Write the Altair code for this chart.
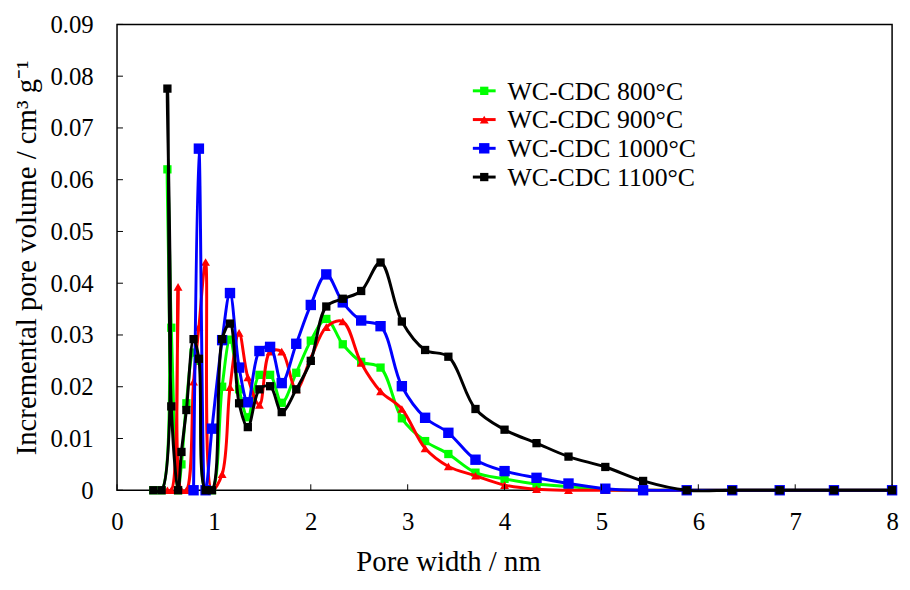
import altair as alt
import pandas as pd
import numpy as np

# Shared pore-width grid (nm)
pore_width = [0.375, 0.46, 0.52, 0.56, 0.63, 0.665, 0.716, 0.79, 0.845, 0.914, 0.98,
              1.085, 1.166, 1.26, 1.35, 1.47, 1.58, 1.70, 1.85, 2.00, 2.16, 2.33, 2.52,
              2.72, 2.94, 3.18, 3.42, 3.70, 4.00, 4.33, 4.66, 5.04, 5.43, 5.88, 6.35,
              6.84, 7.40, 8.00]

N = None
wc800 = [0, 0, 0.0620, 0.0314, 0, 0.0050, 0.0168, 0.0266, 0.0250, 0, 0,
         0.0200, 0.0291, 0.0195, 0.0141, 0.0223, 0.0223, 0.0169, 0.0227, 0.0289, 0.0331, 0.0282, 0.0248,
         0.0237, 0.0139, 0.0095, 0.0070, 0.0034, 0.0022, 0.0012, 0.0007, 0.0001, 0, 0, 0,
         0, 0, 0]
wc900 = [N, N, 0, 0, 0.0393, 0, 0, 0.0210, 0.0315, 0.0441, 0,
         0.0031, 0.0199, 0.0304, 0.0218, 0.0165, 0.0268, 0.0268, 0.0195, 0.0255, 0.0315, 0.0326, 0.0246,
         0.0191, 0.0157, 0.0081, 0.0046, 0.0028, 0.0010, 0.0002, 0, 0, 0, 0, 0,
         0, 0, 0]
wc1000 = [N, N, N, N, N, N, N, 0, 0.0660, 0, 0.0119,
          0.0290, 0.0381, 0.0237, 0.0170, 0.0269, 0.0277, 0.0207, 0.0283, 0.0358, 0.0417, 0.0363, 0.0328,
          0.0317, 0.0201, 0.0140, 0.0111, 0.0059, 0.0037, 0.0024, 0.0013, 0.0003, 0, 0, 0,
          0, 0, 0]
wc1100 = [0, 0, 0.0776, 0.0162, 0, 0.0074, 0.0155, 0.0292, 0.0254, 0, 0,
          0.0292, 0.0322, 0.0168, 0.0122, 0.0195, 0.0201, 0.0151, 0.0195, 0.0250, 0.0355, 0.0370, 0.0385,
          0.0440, 0.0326, 0.0271, 0.0258, 0.0157, 0.0117, 0.0091, 0.0065, 0.0045, 0.0018, 0, 0,
          0, 0, 0]

series_names = ["WC-CDC 800°C", "WC-CDC 900°C", "WC-CDC 1000°C", "WC-CDC 1100°C"]
series_values = [wc800, wc900, wc1000, wc1100]
series_colors = ["#00FF00", "#FF0000", "#0000FF", "#000000"]
series_shapes = ["square", "triangle-up", "square", "square"]
series_sizes = [70, 80, 110, 70]

x_ticks = [0, 1, 2, 3, 4, 5, 6, 7, 8]
y_ticks = [0, 0.01, 0.02, 0.03, 0.04, 0.05, 0.06, 0.07, 0.08, 0.09]

FONT = "Liberation Serif"
W, H = 782, 470

xscale = alt.Scale(domain=[0, 8], nice=False, zero=False)
yscale = alt.Scale(domain=[0, 0.09], nice=False)

xaxis = alt.Axis(values=x_ticks, format="d", title="Pore width / nm", grid=False,
                 domain=False, ticks=False, tickSize=0, labelPadding=20, labelFlush=False,
                 labelFont=FONT, labelFontSize=25, labelColor="black",
                 titleFont=FONT, titleFontSize=29, titleFontWeight="normal", titleColor="black",
                 titleX=334, titleY=81, titleBaseline="alphabetic")
yaxis = alt.Axis(values=y_ticks, title="Incremental pore volume / cm³ g⁻¹", grid=False,
                 labelExpr="datum.value == 0 ? '0' : format(datum.value, '.2f')",
                 domain=False, ticks=False, tickSize=0, labelPadding=24, labelFlush=False,
                 labelFont=FONT, labelFontSize=25, labelColor="black",
                 titleFont=FONT, titleFontSize=29, titleFontWeight="normal", titleColor="black",
                 titleX=-91, titleBaseline="middle")

layers = []
for i, (name, vals, col, shp, sz) in enumerate(zip(series_names, series_values, series_colors,
                                                     series_shapes, series_sizes)):
    df = pd.DataFrame({"x": pore_width, "y": vals}).dropna()
    base = alt.Chart(df)
    enc_x = alt.X("x:Q", scale=xscale, axis=xaxis)
    enc_y = alt.Y("y:Q", scale=yscale, axis=yaxis)
    line = base.mark_line(color=col, strokeWidth=3, interpolate="catmull-rom").encode(x=enc_x, y=enc_y)
    pts = base.mark_point(shape=shp, filled=True, size=sz, color=col, opacity=1).encode(x=enc_x, y=enc_y)
    layers += [line, pts]

# inside ticks
xt = alt.Chart(pd.DataFrame({"t": x_ticks})).mark_rule(color="black", strokeWidth=1).encode(
    x=alt.X("t:Q", scale=xscale, axis=xaxis), y=alt.value(H), y2=alt.value(H - 6))
yt = alt.Chart(pd.DataFrame({"t": y_ticks})).mark_rule(color="black", strokeWidth=1).encode(
    y=alt.Y("t:Q", scale=yscale, axis=yaxis), x=alt.value(0), x2=alt.value(6))
layers += [xt, yt]

# legend
ly0, ldy = 67, 29
for i, (name, col, shp, sz) in enumerate(zip(series_names, series_colors, series_shapes, series_sizes)):
    ldf = pd.DataFrame({"name": [name]})
    yy = ly0 + i * ldy
    lb = alt.Chart(ldf)
    layers.append(lb.mark_rule(color=col, strokeWidth=3).encode(
        x=alt.value(359), x2=alt.value(382), y=alt.value(yy)))
    layers.append(lb.mark_point(shape=shp, filled=True, size=sz, color=col, opacity=1).encode(
        x=alt.value(370.5), y=alt.value(yy)))
    layers.append(lb.mark_text(font=FONT, fontSize=26, align="left", baseline="middle", color="black").encode(
        x=alt.value(394), y=alt.value(yy + 1), text="name:N"))

chart = alt.layer(*layers).properties(
    width=W, height=H,
    padding={"left": 110, "top": 14, "right": 10, "bottom": 90},
    autosize=alt.AutoSizeParams(type="none"),
    background="white",
).configure_view(stroke="black", strokeWidth=1.5)

chart.save("out.html", embed_options={"renderer": "svg", "actions": False})
